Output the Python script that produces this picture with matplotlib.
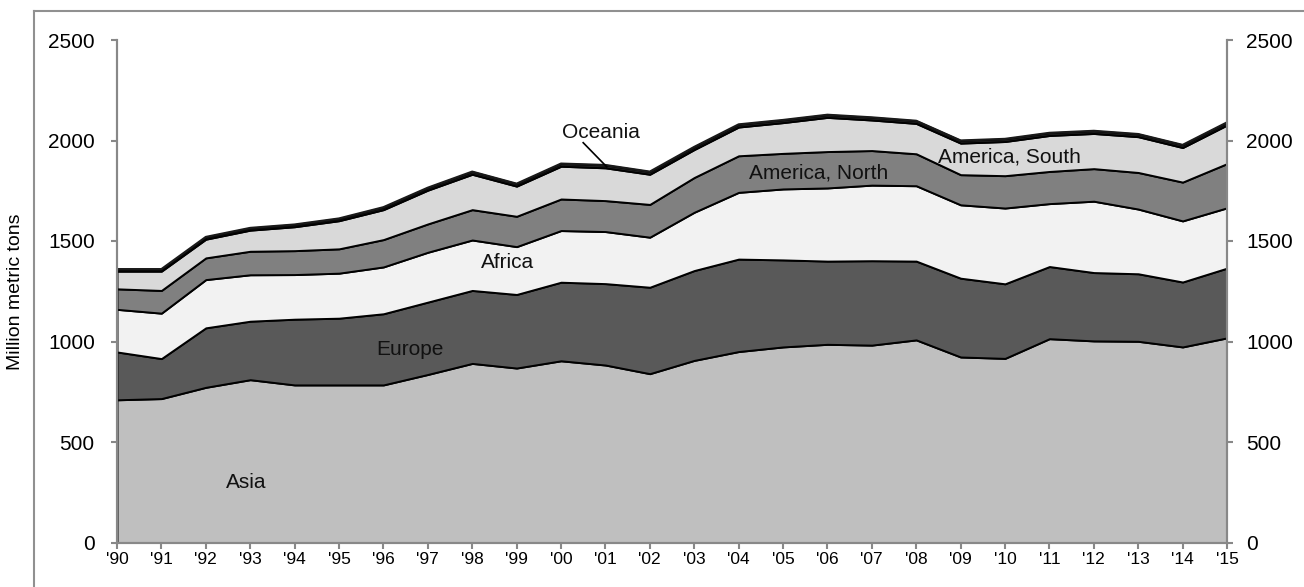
import matplotlib

matplotlib.use("Agg")

import matplotlib.pyplot as plt
import numpy as np
from matplotlib.lines import Line2D

plt.rcParams["font.family"] = ["Liberation Sans", "DejaVu Sans"]

years = list(range(1990, 2016))
tick_labels = ["'" + str(y)[2:] for y in years]

regions = ["Asia", "Europe", "Africa", "America, North", "America, South", "Oceania"]

asia = [710, 716, 772, 810, 784, 784, 784, 836, 891, 868, 904, 883, 840,
        906, 950, 973, 986, 982, 1008, 923, 916, 1014, 1003, 1001, 973, 1018]
europe = [238, 199, 296, 291, 327, 332, 354, 360, 363, 366, 391, 405, 430,
          447, 460, 433, 414, 420, 392, 392, 371, 359, 340, 336, 323, 347]
africa = [212, 226, 240, 231, 222, 224, 233, 248, 251, 238, 257, 259, 249,
          290, 332, 353, 364, 376, 375, 365, 377, 313, 355, 322, 304, 300]
america_north = [102, 113, 108, 117, 119, 121, 136, 141, 151, 151, 157, 154, 163,
                 173, 182, 177, 181, 172, 159, 150, 161, 160, 162, 182, 193, 220]
america_south = [88, 96, 93, 105, 119, 140, 149, 168, 176, 150, 163, 163, 150,
                 139, 143, 153, 170, 152, 151, 157, 170, 179, 175, 178, 172, 192]
oceania = [10, 10, 11, 11, 11, 11, 12, 12, 13, 12, 13, 14, 13,
           13, 13, 13, 13, 13, 13, 13, 13, 13, 13, 13, 13, 13]

colors = ["#bfbfbf", "#595959", "#f2f2f2", "#808080", "#d9d9d9", "#262626"]

# label positions (year, value) for the in-chart region names
label_pos = {
    "Asia": (1992.9, 300),
    "Europe": (1996.6, 960),
    "Africa": (1998.8, 1393),
    "America, North": (2005.8, 1840),
    "America, South": (2010.1, 1919),
    "Oceania": (2000.9, 2038),
}

series = [asia, europe, africa, america_north, america_south, oceania]

fig = plt.figure(figsize=(13.04, 5.87), dpi=100)
ax = fig.add_axes([117 / 1304, 1 - 542.5 / 587, 1110 / 1304, 502.5 / 587])

ax.stackplot(years, *series, colors=colors, edgecolor="black", linewidth=1.4)

# thicker outline on the very top (Oceania band)
total = np.sum(series, axis=0)
ax.plot(years, total, color="#1a1a1a", linewidth=1.6)

ax.set_xlim(1990, 2015)
ax.set_ylim(0, 2500)
ax.set_xticks(years)
ax.set_xticklabels(tick_labels, fontsize=12.5)
ax.set_yticks(range(0, 2501, 500))
ax.tick_params(axis="y", labelsize=15, length=4, color="#888888", width=1.5, pad=12)
ax.tick_params(axis="x", length=4, color="#888888", width=1.5, pad=3)
ax.set_ylabel("Million metric tons", fontsize=14, labelpad=17)

ax2 = ax.twinx()
ax2.set_ylim(0, 2500)
ax2.set_yticks(range(0, 2501, 500))
ax2.tick_params(axis="y", labelsize=15, length=4, color="#888888", width=1.5, pad=10)

for a in (ax, ax2):
    a.spines["top"].set_visible(False)
    for side in ("left", "right", "bottom"):
        a.spines[side].set_color("#888888")
        a.spines[side].set_linewidth(1.5)

for name in regions:
    x, y = label_pos[name]
    ax.text(x, y, name, fontsize=15, ha="center", va="center", color="#111111")

# leader line for the Oceania label
ax.plot([2000.5, 2001.03], [1989, 1869], color="black", linewidth=1.2)

# outer frame (only left and top edges are inside the image)
fig.add_artist(Line2D([34 / 1304, 34 / 1304], [0, 1 - 11 / 587],
                      transform=fig.transFigure, color="#909090", linewidth=1.5))
fig.add_artist(Line2D([34 / 1304, 1], [1 - 11 / 587, 1 - 11 / 587],
                      transform=fig.transFigure, color="#909090", linewidth=1.5))

fig.savefig("out.png", dpi=100)
plt.close(fig)
